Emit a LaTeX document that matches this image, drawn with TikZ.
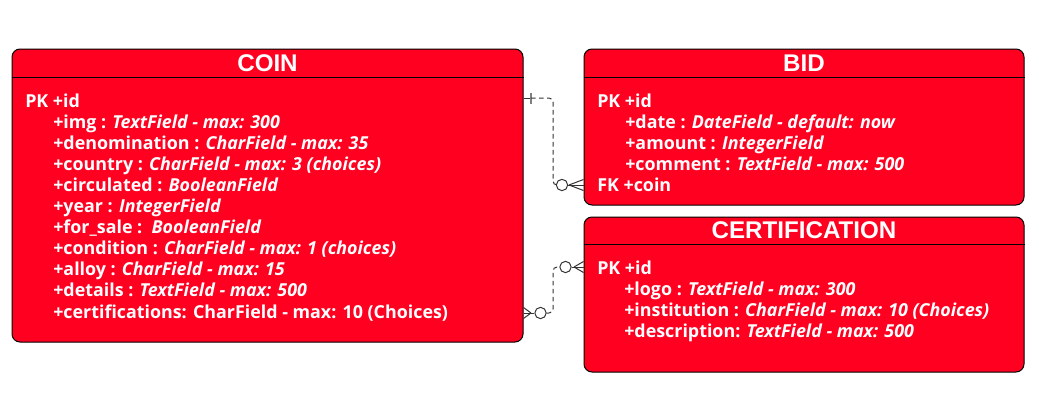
\documentclass[tikz,border=0pt]{standalone}
\usepackage{fontspec}
\setmainfont{Open Sans}
\newfontfamily\hdrfont{Liberation Sans}
\definecolor{boxred}{HTML}{FF0021}
\definecolor{linegray}{HTML}{333333}
\begin{document}
\begin{tikzpicture}[x=0.75pt,y=-0.75pt,
  box/.style={draw=black, fill=boxred, line width=0.75pt, rounded corners=6pt, inner sep=0pt},
  hdr/.style={text=white, font=\hdrfont\bfseries\fontsize{18.1}{20}\selectfont, inner sep=0pt, anchor=base},
  fld/.style={text=white, font=\bfseries\fontsize{13.4}{16}\selectfont, inner sep=0pt, anchor=base west},
  divider/.style={draw=black, line width=0.75pt},
  conn/.style={draw=linegray, line width=0.75pt, dash pattern=on 3.5pt off 2.5pt, rounded corners=3pt},
  erline/.style={draw=linegray, line width=0.75pt},
  ring/.style={circle, draw=linegray, fill=white, line width=0.75pt, minimum size=8.5pt, inner sep=0pt}
]
\useasboundingbox (0,0) rectangle (1039,404);

% boxes
\node[box, minimum width=383.25pt, minimum height=219.75pt] (coin) at (267.5,195.5) {};
\node[box, minimum width=330pt, minimum height=117pt] (bid) at (804,127) {};
\node[box, minimum width=330pt, minimum height=116.25pt] (cert) at (804,294.5) {};

\draw[divider] (coin.west |- 0,77.5) -- (coin.east |- 0,77.5);
\draw[divider] (bid.west |- 0,77.5) -- (bid.east |- 0,77.5);
\draw[divider] (cert.west |- 0,244.5) -- (cert.east |- 0,244.5);

% headers
\node[hdr] (coinh) at (267.5,71.5) {COIN};
\node[hdr] (bidh) at (804,71.5) {BID};
\node[hdr] (certh) at (804,238) {CERTIFICATION};

% COIN fields
\node[fld] (c0) at (25,107) {PK +id};
\node[fld] (c1) at (53,128.1) {+img : \textit{TextField - max: 300}};
\node[fld] (c2) at (53,149.2) {+denomination : \textit{CharField - max: 35}};
\node[fld] (c3) at (53,170.3) {+country : \textit{CharField - max: 3 (choices)}};
\node[fld] (c4) at (53,191.4) {+circulated : \textit{BooleanField}};
\node[fld] (c5) at (53,212.5) {+year : \textit{IntegerField}};
\node[fld] (c6) at (53,233.6) {+for\_sale :\ \ \textit{BooleanField}};
\node[fld] (c7) at (53,254.7) {+condition : \textit{CharField - max: 1 (choices)}};
\node[fld] (c8) at (53,275.8) {+alloy : \textit{CharField - max: 15}};
\node[fld] (c9) at (53,296.9) {+details : \textit{TextField - max: 500}};
\node[fld] (c10) at (53,318) {+certifications: CharField - max: 10 (Choices)};

% BID fields
\node[fld] (b0) at (597,107) {PK +id};
\node[fld] (b1) at (625,128.1) {+date : \textit{DateField - default: now}};
\node[fld] (b2) at (625,149.2) {+amount : \textit{IntegerField}};
\node[fld] (b3) at (625,170.3) {+comment : \textit{TextField - max: 500}};
\node[fld] (b4) at (597,191.4) {FK +coin};

% CERTIFICATION fields
\node[fld] (e0) at (597,274.5) {PK +id};
\node[fld] (e1) at (624,295.6) {+logo : \textit{TextField - max: 300}};
\node[fld] (e2) at (624,316.7) {+institution : \textit{CharField - max: 10 (Choices)}};
\node[fld] (e3) at (624,337.8) {+description: \textit{TextField - max: 500}};

% COIN -- BID connector (one to many, optional)
\coordinate (cbA) at (coin.east |- 0,98);
\coordinate (cbT) at (531,98);
\coordinate (cbB) at (bid.west |- 0,185);
\node[ring] (cbR) at (562,185) {};
\coordinate (cbF) at (569,185);
\draw[erline] (cbA) -- (cbT);
\draw[draw=gray, line width=1.6pt] (531,92.5) -- (531,103.5);
\draw[conn] (cbT) -| (553,140) |- (cbR.west);
\draw[erline] (cbR.east) -- (cbB);
\draw[erline] (cbF) -- (cbB |- 0,179.5);
\draw[erline] (cbF) -- (cbB |- 0,190.5);

% COIN -- CERTIFICATION connector (many to many, optional)
\coordinate (ccA) at (coin.east |- 0,313);
\coordinate (ccF) at (531,313);
\node[ring] (ccR) at (540.5,313) {};
\coordinate (ccB) at (cert.west |- 0,267);
\node[ring] (ccS) at (565.5,267) {};
\coordinate (ccG) at (574,267);
\draw[erline] (ccA) -- (ccR.west);
\draw[erline] (ccF) -- (ccA |- 0,307.5);
\draw[erline] (ccF) -- (ccA |- 0,318.5);
\draw[conn] (ccR.east) -| (553,290) |- (ccS.west);
\draw[erline] (ccS.east) -- (ccB);
\draw[erline] (ccG) -- (ccB |- 0,261.5);
\draw[erline] (ccG) -- (ccB |- 0,272.5);
\end{tikzpicture}
\end{document}
